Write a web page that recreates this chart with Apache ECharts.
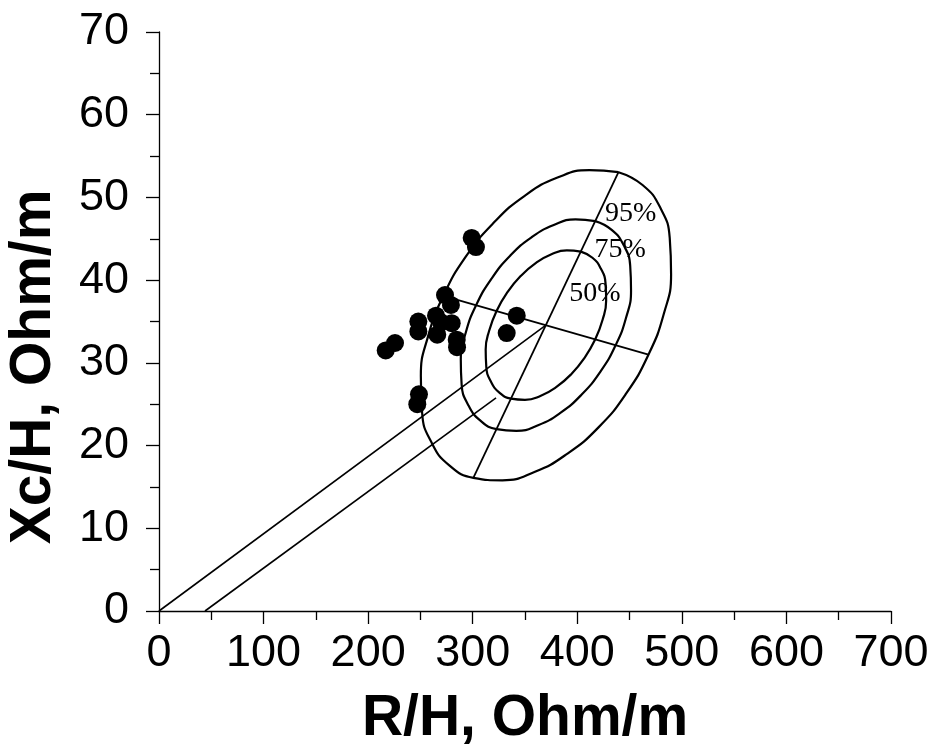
<!DOCTYPE html>
<html>
<head>
<meta charset="utf-8">
<script src="https://cdn.jsdelivr.net/npm/echarts@6/dist/echarts.min.js"></script>
<style>
html,body{margin:0;padding:0;background:#fff;}
#chart{width:927px;height:747px;}
</style>
</head>
<body>
<div id="chart"></div>
<script>
// Measured data points (R/H, Xc/H)
const rhValues = [299.0, 303.1, 273.5, 279.2, 248.0, 248.0, 264.9, 269.7, 279.9, 266.1, 284.7, 285.0, 225.7, 216.8, 248.6, 247.0, 342.1, 332.5];
const xcValues = [45.1, 44.0, 38.2, 37.0, 35.0, 33.8, 35.7, 34.9, 34.8, 33.4, 32.8, 31.9, 32.4, 31.5, 26.2, 25.0, 35.7, 33.6];

// Tolerance ellipse outlines
const ellipse95 = [[439.4,53.05],[462.4,51.5],[479.2,48.8],[488.4,45.1],[489.7,40.7],[482.7,35.9],[468.1,31.0],[446.8,26.3],[420.3,22.2],[390.3,19.0],[359.0,16.8],[328.4,15.8],[300.6,16.1],[277.6,17.6],[260.9,20.3],[251.6,24.0],[250.4,28.4],[257.3,33.2],[271.9,38.1],[293.2,42.8],[319.8,46.9],[349.7,50.2],[381.1,52.4],[411.6,53.3],[439.4,53.05]];
const ellipse75 = [[417.2,47.14],[432.9,46.08],[444.3,44.24],[450.6,41.74],[451.4,38.75],[446.7,35.48],[436.7,32.14],[422.3,28.97],[404.2,26.17],[383.8,23.95],[362.5,22.46],[341.7,21.78],[322.8,21.98],[307.1,23.04],[295.8,24.88],[289.4,27.38],[288.6,30.37],[293.3,33.64],[303.3,36.98],[317.8,40.15],[335.8,42.95],[356.2,45.17],[377.5,46.66],[398.3,47.34],[417.2,47.14]];
const ellipse50 = [[403.4,43.45],[414.5,42.71],[422.5,41.40],[427.0,39.63],[427.6,37.52],[424.2,35.21],[417.2,32.85],[406.9,30.61],[394.2,28.63],[379.8,27.06],[364.7,26.00],[350.0,25.53],[336.6,25.67],[325.5,26.41],[317.5,27.72],[313.0,29.49],[312.4,31.60],[315.8,33.91],[322.8,36.27],[333.1,38.51],[345.8,40.49],[360.2,42.06],[375.3,43.12],[390.0,43.59],[403.4,43.45]];

// Straight reference lines
const majorAxisLine = [[300.6,16.1],[439.4,53.05]];
const minorAxisLine = [[271.9,38.1],[468.1,31.0]];
const originLine = [[0,0],[370.0,34.56]];
const offsetLine = [[44,0],[322.3,25.77]];

// Ellipse labels
const levelLabels = ['95%','75%','50%'];
const levelLabelX = [451.1, 440.9, 416.9];
const levelLabelY = [48.1, 43.7, 38.4];

const chart = echarts.init(document.getElementById('chart'), null, {renderer:'canvas'});

const FONT = 'Liberation Sans, Arial, sans-serif';
function lineSeries(data, smooth, width){
  return {type:'line', data:data, smooth:smooth, symbol:'none', lineStyle:{color:'#000', width:width, opacity:1}, silent:true, animation:false, z:2};
}

const option = {
  backgroundColor:'#fff',
  animation:false,
  grid:{left:159, right:36, top:32, bottom:136, containLabel:false, outerBoundsMode:'none'},
  xAxis:{
    type:'value', min:0, max:700, interval:100,
    axisLine:{show:true, lineStyle:{color:'#000', width:1.3}},
    axisTick:{show:true, inside:false, length:13, lineStyle:{color:'#000', width:1.3}},
    minorTick:{show:true, splitNumber:2, length:9, lineStyle:{color:'#000', width:1.3}},
    splitLine:{show:false},
    axisLabel:{color:'#000', fontSize:45, fontFamily:FONT, margin:20},
    name:'R/H, Ohm/m', nameLocation:'middle', nameGap:80,
    nameTextStyle:{color:'#000', fontSize:57, fontWeight:'bold', fontFamily:FONT}
  },
  yAxis:{
    type:'value', min:0, max:70, interval:10,
    axisLine:{show:true, lineStyle:{color:'#000', width:1.3}},
    axisTick:{show:true, inside:false, length:13, lineStyle:{color:'#000', width:1.3}},
    minorTick:{show:true, splitNumber:2, length:9, lineStyle:{color:'#000', width:1.3}},
    splitLine:{show:false},
    axisLabel:{color:'#000', fontSize:45, fontFamily:FONT, margin:30}
  },
  graphic:[{
    type:'text', x:34, y:367, rotation:Math.PI/2,
    style:{text:'Xc/H, Ohm/m', fill:'#000', font:'bold 57px "Liberation Sans", Arial, sans-serif', textAlign:'center', textVerticalAlign:'middle'}
  }],
  series:[
    lineSeries(ellipse95, true, 2.2),
    lineSeries(ellipse75, true, 2.2),
    lineSeries(ellipse50, true, 2.2),
    lineSeries(majorAxisLine, false, 1.8),
    lineSeries(minorAxisLine, false, 1.8),
    lineSeries(originLine, false, 1.6),
    lineSeries(offsetLine, false, 1.6),
    {
      type:'scatter', symbol:'circle', symbolSize:18,
      itemStyle:{color:'#000', opacity:1}, z:5,
      data: rhValues.map((x,i)=>[x, xcValues[i]])
    },
    {
      type:'scatter', symbolSize:0, z:6, silent:true,
      itemStyle:{opacity:1},
      data: levelLabels.map((t,i)=>({name:t, value:[levelLabelX[i], levelLabelY[i]]})),
      label:{show:true, position:'inside', formatter:'{b}', color:'#000', opacity:1, fontSize:28, fontFamily:'Liberation Serif, Times New Roman, serif'}
    }
  ]
};
chart.setOption(option);
</script>
</body>
</html>
